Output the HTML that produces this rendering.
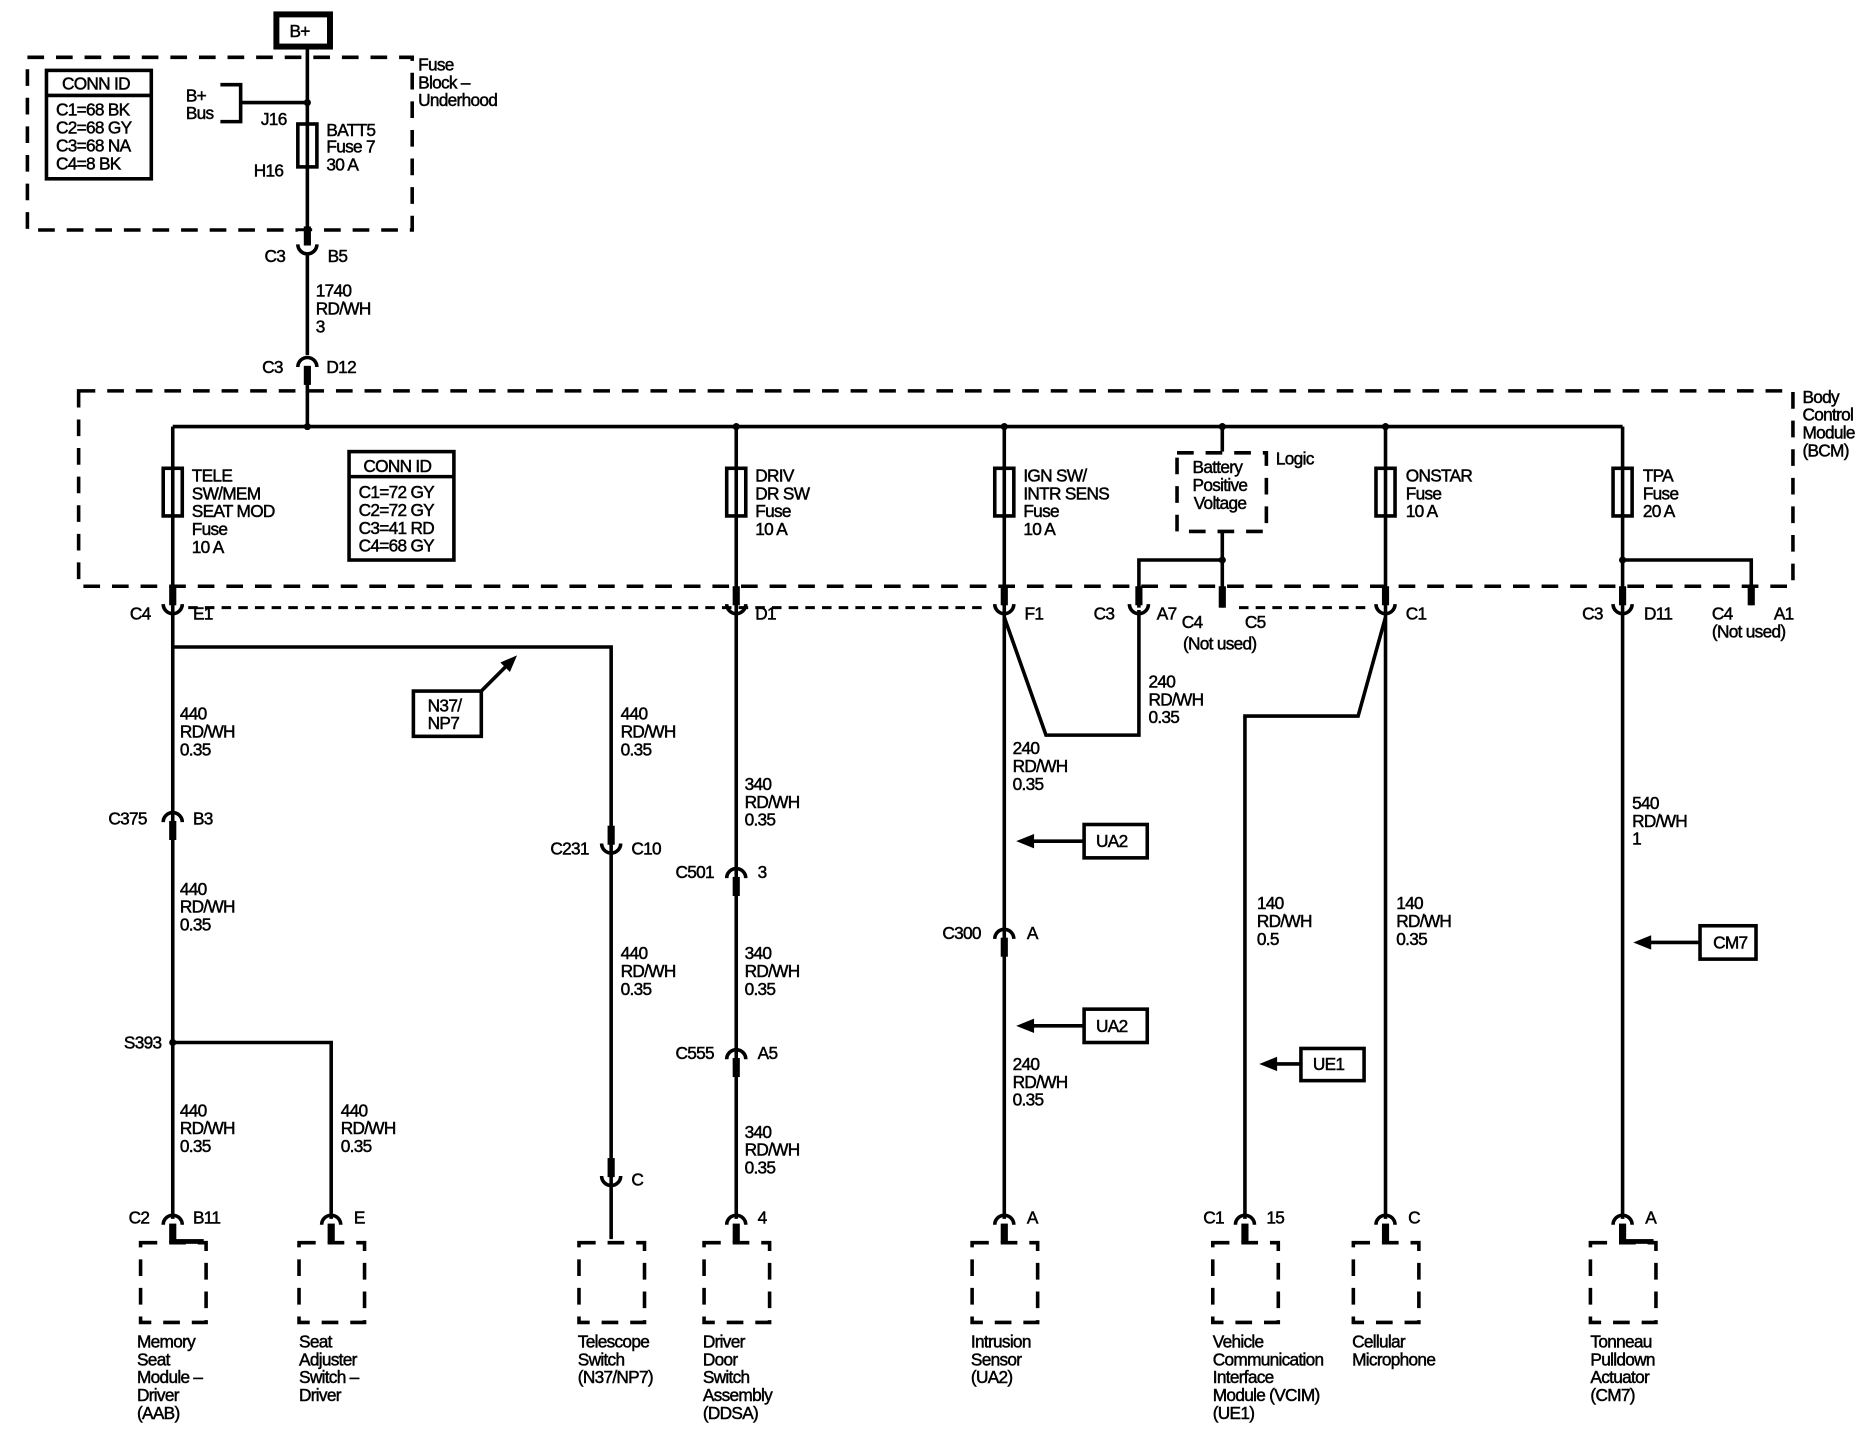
<!DOCTYPE html>
<html><head><meta charset="utf-8"><style>
html,body{margin:0;padding:0;background:#fff}
svg{display:block}
text{font-family:"Liberation Sans",Arial,sans-serif;font-size:14.5px;letter-spacing:-0.6px;fill:#000;stroke:#000;stroke-width:0.4px}
</style></head><body>
<svg width="1868" height="1456" viewBox="0 0 1568 1222" xmlns="http://www.w3.org/2000/svg">
<defs>
<g id="U"><path d="M-8,-5 A8,8 0 0 0 8,-5" fill="none" stroke="#000" stroke-width="3"/><rect x="-3" y="-20" width="6" height="16"/></g>
<g id="N"><path d="M-8,5 A8,8 0 0 1 8,5" fill="none" stroke="#000" stroke-width="3"/><rect x="-3" y="4" width="6" height="16"/></g>
<g id="box"><rect x="-27" y="0" width="55" height="67" fill="none" stroke="#000" stroke-width="3" stroke-dasharray="14,10"/></g>
</defs>
<g fill="none" stroke="#000" stroke-width="3">
<rect x="232" y="12" width="45" height="27" stroke-width="5"/>
<rect x="23" y="48" width="323" height="145" stroke-dasharray="14,10"/>
<rect x="39" y="59" width="88" height="91"/>
<line x1="39" y1="80" x2="127" y2="80"/>
<line x1="258" y1="40" x2="258" y2="358"/>
<path d="M185,71 H202 V102 H185"/>
<line x1="202" y1="86" x2="258" y2="86"/>
<rect x="250" y="104" width="16" height="36" fill="#fff"/>
<line x1="258" y1="104" x2="258" y2="140"/>
<rect x="66" y="328" width="1439" height="164" stroke-dasharray="14,10"/>
<line x1="145" y1="358" x2="1362" y2="358"/>
<line x1="145" y1="358" x2="145" y2="1023"/>
<line x1="618" y1="358" x2="618" y2="1023"/>
<line x1="843" y1="358" x2="843" y2="1023"/>
<line x1="1163" y1="358" x2="1163" y2="1023"/>
<line x1="1362" y1="358" x2="1362" y2="1023"/>
<line x1="1026" y1="358" x2="1026" y2="379"/>
<rect x="293" y="379" width="88" height="91"/>
<line x1="293" y1="400" x2="381" y2="400"/>
<rect x="988" y="380" width="75" height="66" stroke-dasharray="14,10" fill="#fff"/>
<line x1="1026" y1="446" x2="1026" y2="510"/>
<path d="M956,510 V470 H1026"/>
<path d="M1362,470 H1470 V508"/>
<line x1="158" y1="510" x2="830" y2="510" stroke-width="2.5" stroke-dasharray="8,6"/>
<line x1="1040" y1="510" x2="1150" y2="510" stroke-width="2.5" stroke-dasharray="8,6"/>
<path d="M843,518 L878,617 H956 V512"/>
<path d="M1163,518 L1140,601 H1045 V1023"/>
<path d="M145,543 H513 V1040"/>
<path d="M145,875 H278 V1023"/>
<line x1="404" y1="580" x2="426" y2="558"/>
<rect x="347" y="580" width="57" height="38"/>
<rect x="910" y="692" width="53" height="28"/>
<rect x="910" y="847" width="53" height="28"/>
<rect x="1092" y="880" width="53" height="27"/>
<rect x="1427" y="777" width="47" height="28"/>
<line x1="910" y1="706" x2="866" y2="706"/>
<line x1="910" y1="861" x2="866" y2="861"/>
<line x1="1092" y1="893" x2="1070" y2="893"/>
<line x1="1427" y1="791" x2="1384" y2="791"/>
</g>
<g fill="#000">
<polygon points="434,550 420,556 428,564"/>
<polygon points="853,706 868,700 868,712"/>
<polygon points="853,861 868,855 868,867"/>
<polygon points="1057,893 1072,887 1072,899"/>
<polygon points="1371,791 1386,785 1386,797"/>
<circle cx="258" cy="86" r="3"/><circle cx="258" cy="358" r="3"/>
<circle cx="618" cy="358" r="3"/><circle cx="843" cy="358" r="3"/>
<circle cx="1026" cy="358" r="3"/><circle cx="1163" cy="358" r="3"/>
<circle cx="1026" cy="470" r="3"/><circle cx="1362" cy="470" r="3"/>
<circle cx="145" cy="875" r="3"/>
<rect x="1023" y="492" width="6" height="18"/>
<rect x="1467" y="492" width="6" height="16"/>
</g>
<g fill="#fff" stroke="#000" stroke-width="3">
<rect x="137" y="393" width="16" height="40"/><rect x="610" y="393" width="16" height="40"/>
<rect x="835" y="393" width="16" height="40"/><rect x="1155" y="393" width="16" height="40"/>
<rect x="1354" y="393" width="16" height="40"/>
</g>
<g stroke="#000" stroke-width="3">
<line x1="145" y1="393" x2="145" y2="433"/><line x1="618" y1="393" x2="618" y2="433"/>
<line x1="843" y1="393" x2="843" y2="433"/><line x1="1163" y1="393" x2="1163" y2="433"/>
<line x1="1362" y1="393" x2="1362" y2="433"/>
</g>
<g fill="#fff"><rect x="250" y="194" width="16" height="20"/><rect x="250" y="298" width="16" height="12"/></g>
<use href="#U" x="258" y="210"/><use href="#N" x="258" y="303"/>
<use href="#U" x="145" y="512"/><use href="#U" x="618" y="512"/><use href="#U" x="843" y="512"/>
<use href="#U" x="956" y="512"/><use href="#U" x="1163" y="512"/><use href="#U" x="1362" y="512"/>
<use href="#N" x="145" y="685"/><use href="#U" x="513" y="713"/>
<use href="#N" x="618" y="732"/><use href="#N" x="618" y="884"/><use href="#N" x="843" y="783"/>
<use href="#U" x="513" y="992"/>
<use href="#N" x="145" y="1023"/><use href="#N" x="278" y="1023"/><use href="#N" x="618" y="1023"/>
<use href="#N" x="843" y="1023"/><use href="#N" x="1045" y="1023"/><use href="#N" x="1163" y="1023"/>
<use href="#N" x="1362" y="1023"/>
<rect x="145" y="1040" width="26" height="4" fill="#000"/>
<rect x="1362" y="1040" width="26" height="4" fill="#000"/>
<use href="#box" x="145" y="1043"/><use href="#box" x="278" y="1043"/><use href="#box" x="513" y="1043"/>
<use href="#box" x="618" y="1043"/><use href="#box" x="843" y="1043"/><use href="#box" x="1045" y="1043"/>
<use href="#box" x="1163" y="1043"/><use href="#box" x="1362" y="1043"/>
<text x="243" y="31">B+</text>
<text x="351" y="59">Fuse</text><text x="351" y="74">Block –</text><text x="351" y="89">Underhood</text>
<text x="52" y="75">CONN ID</text>
<text x="47" y="97">C1=68 BK</text><text x="47" y="112">C2=68 GY</text><text x="47" y="127">C3=68 NA</text><text x="47" y="142">C4=8 BK</text>
<text x="156" y="85">B+</text><text x="156" y="100">Bus</text>
<text x="219" y="105">J16</text><text x="213" y="148">H16</text>
<text x="274" y="114">BATT5</text><text x="274" y="128">Fuse 7</text><text x="274" y="143">30 A</text>
<text x="222" y="220">C3</text><text x="275" y="220">B5</text>
<text x="265" y="249">1740</text><text x="265" y="264">RD/WH</text><text x="265" y="279">3</text>
<text x="220" y="313">C3</text><text x="274" y="313">D12</text>
<text x="1513" y="338">Body</text><text x="1513" y="353">Control</text><text x="1513" y="368">Module</text><text x="1513" y="383">(BCM)</text>
<text x="161" y="404">TELE</text><text x="161" y="419">SW/MEM</text><text x="161" y="434">SEAT MOD</text><text x="161" y="449">Fuse</text><text x="161" y="464">10 A</text>
<text x="305" y="396">CONN ID</text>
<text x="301" y="418">C1=72 GY</text><text x="301" y="433">C2=72 GY</text><text x="301" y="448">C3=41 RD</text><text x="301" y="463">C4=68 GY</text>
<text x="634" y="404">DRIV</text><text x="634" y="419">DR SW</text><text x="634" y="434">Fuse</text><text x="634" y="449">10 A</text>
<text x="859" y="404">IGN SW/</text><text x="859" y="419">INTR SENS</text><text x="859" y="434">Fuse</text><text x="859" y="449">10 A</text>
<text x="1001" y="397">Battery</text><text x="1001" y="412">Positive</text><text x="1002" y="427">Voltage</text>
<text x="1071" y="390">Logic</text>
<text x="1180" y="404">ONSTAR</text><text x="1180" y="419">Fuse</text><text x="1180" y="434">10 A</text>
<text x="1379" y="404">TPA</text><text x="1379" y="419">Fuse</text><text x="1379" y="434">20 A</text>
<text x="109" y="520">C4</text><text x="162" y="520">E1</text><text x="634" y="520">D1</text><text x="860" y="520">F1</text>
<text x="918" y="520">C3</text><text x="971" y="520">A7</text><text x="992" y="527">C4</text><text x="1045" y="527">C5</text>
<text x="993" y="545">(Not used)</text><text x="1180" y="520">C1</text>
<text x="1328" y="520">C3</text><text x="1380" y="520">D11</text><text x="1437" y="520">C4</text><text x="1489" y="520">A1</text>
<text x="1437" y="535">(Not used)</text>
<text x="151" y="604">440</text><text x="151" y="619">RD/WH</text><text x="151" y="634">0.35</text>
<text x="359" y="597">N37/</text><text x="359" y="612">NP7</text>
<text x="521" y="604">440</text><text x="521" y="619">RD/WH</text><text x="521" y="634">0.35</text>
<text x="625" y="663">340</text><text x="625" y="678">RD/WH</text><text x="625" y="693">0.35</text>
<text x="964" y="577">240</text><text x="964" y="592">RD/WH</text><text x="964" y="607">0.35</text>
<text x="850" y="633">240</text><text x="850" y="648">RD/WH</text><text x="850" y="663">0.35</text>
<text x="1370" y="679">540</text><text x="1370" y="694">RD/WH</text><text x="1370" y="709">1</text>
<text x="91" y="692">C375</text><text x="162" y="692">B3</text>
<text x="920" y="711">UA2</text><text x="920" y="866">UA2</text><text x="1102" y="898">UE1</text><text x="1438" y="796">CM7</text>
<text x="462" y="717">C231</text><text x="530" y="717">C10</text>
<text x="567" y="737">C501</text><text x="636" y="737">3</text>
<text x="151" y="751">440</text><text x="151" y="766">RD/WH</text><text x="151" y="781">0.35</text>
<text x="791" y="788">C300</text><text x="862" y="788">A</text>
<text x="1055" y="763">140</text><text x="1055" y="778">RD/WH</text><text x="1055" y="793">0.5</text>
<text x="1172" y="763">140</text><text x="1172" y="778">RD/WH</text><text x="1172" y="793">0.35</text>
<text x="521" y="805">440</text><text x="521" y="820">RD/WH</text><text x="521" y="835">0.35</text>
<text x="625" y="805">340</text><text x="625" y="820">RD/WH</text><text x="625" y="835">0.35</text>
<text x="104" y="880">S393</text>
<text x="567" y="889">C555</text><text x="636" y="889">A5</text>
<text x="850" y="898">240</text><text x="850" y="913">RD/WH</text><text x="850" y="928">0.35</text>
<text x="151" y="937">440</text><text x="151" y="952">RD/WH</text><text x="151" y="967">0.35</text>
<text x="286" y="937">440</text><text x="286" y="952">RD/WH</text><text x="286" y="967">0.35</text>
<text x="625" y="955">340</text><text x="625" y="970">RD/WH</text><text x="625" y="985">0.35</text>
<text x="530" y="995">C</text>
<text x="108" y="1027">C2</text><text x="162" y="1027">B11</text><text x="297" y="1027">E</text>
<text x="636" y="1027">4</text><text x="862" y="1027">A</text><text x="1010" y="1027">C1</text><text x="1063" y="1027">15</text>
<text x="1182" y="1027">C</text><text x="1381" y="1027">A</text>
<text x="115" y="1131">Memory</text><text x="115" y="1146">Seat</text><text x="115" y="1161">Module –</text><text x="115" y="1176">Driver</text><text x="115" y="1191">(AAB)</text>
<text x="251" y="1131">Seat</text><text x="251" y="1146">Adjuster</text><text x="251" y="1161">Switch –</text><text x="251" y="1176">Driver</text>
<text x="485" y="1131">Telescope</text><text x="485" y="1146">Switch</text><text x="485" y="1161">(N37/NP7)</text>
<text x="590" y="1131">Driver</text><text x="590" y="1146">Door</text><text x="590" y="1161">Switch</text><text x="590" y="1176">Assembly</text><text x="590" y="1191">(DDSA)</text>
<text x="815" y="1131">Intrusion</text><text x="815" y="1146">Sensor</text><text x="815" y="1161">(UA2)</text>
<text x="1018" y="1131">Vehicle</text><text x="1018" y="1146">Communication</text><text x="1018" y="1161">Interface</text><text x="1018" y="1176">Module (VCIM)</text><text x="1018" y="1191">(UE1)</text>
<text x="1135" y="1131">Cellular</text><text x="1135" y="1146">Microphone</text>
<text x="1335" y="1131">Tonneau</text><text x="1335" y="1146">Pulldown</text><text x="1335" y="1161">Actuator</text><text x="1335" y="1176">(CM7)</text>
</svg>
</body></html>
